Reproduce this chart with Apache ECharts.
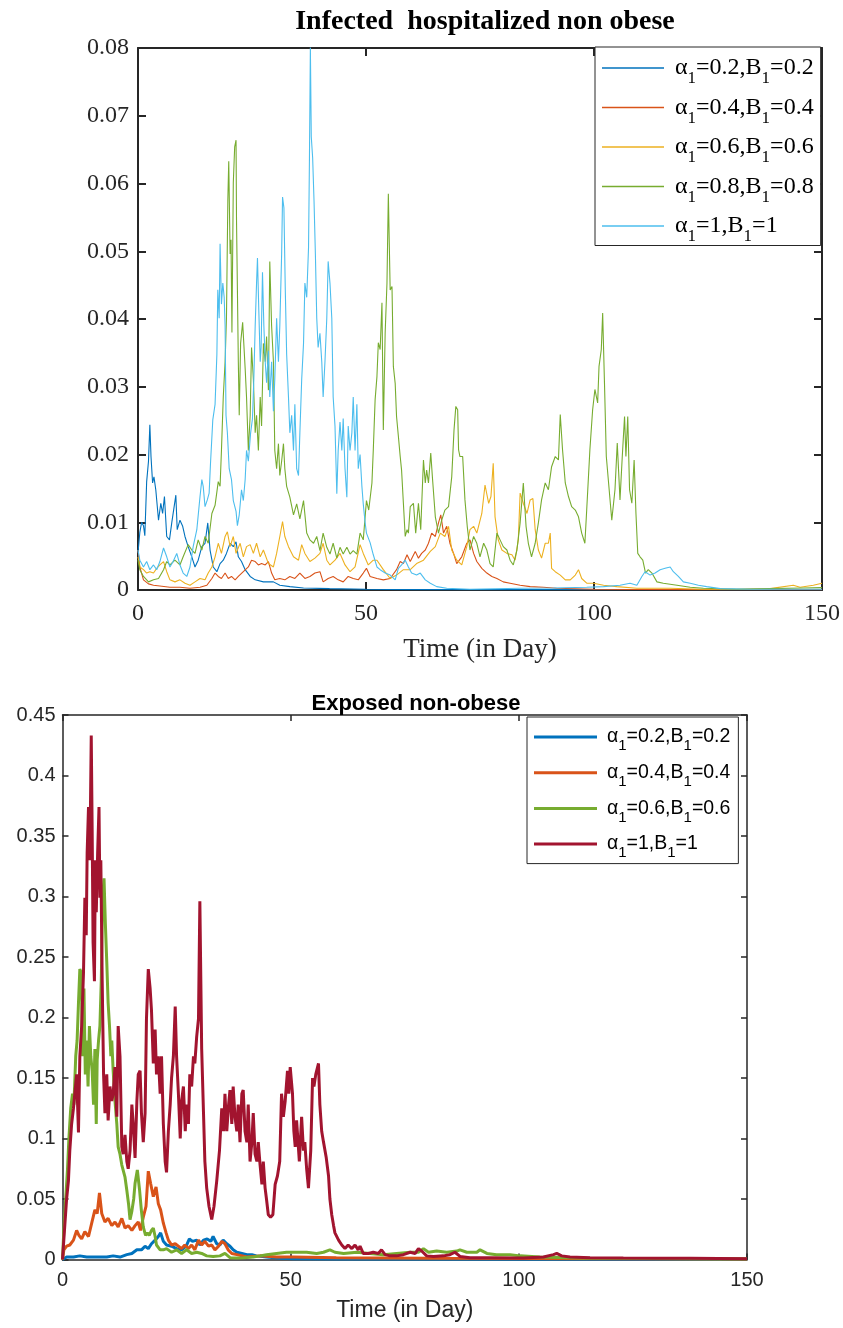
<!DOCTYPE html>
<html>
<head>
<meta charset="utf-8">
<script src="https://cdn.jsdelivr.net/npm/echarts@6/dist/echarts.min.js"></script>
<style>html,body{margin:0;padding:0;background:#fff}#c{width:843px;height:1328px}</style>
</head>
<body>
<div id="c"></div>
<script>
// ---------- Titles / labels ----------
const topTitle = 'Infected  hospitalized non obese';
const botTitle = 'Exposed non-obese';
const xName = 'Time (in Day)';
const xTicks = ['0', '50', '100', '150'];
const topYTicks = ['0', '0.01', '0.02', '0.03', '0.04', '0.05', '0.06', '0.07', '0.08'];
const botYTicks = ['0', '0.05', '0.1', '0.15', '0.2', '0.25', '0.3', '0.35', '0.4', '0.45'];
const topParams = ['0.2', '0.4', '0.6', '0.8', '1'];
const botParams = ['0.2', '0.4', '0.6', '1'];
const topColors = ['#0072BD', '#D95319', '#EDB120', '#77AC30', '#4DBEEE'];
const botColors = ['#0072BD', '#D95319', '#77AC30', '#A2142F'];

// ---------- Top chart: Infected hospitalized non obese ([day, value]) ----------
const topA02 = [[0,0.0055],[0.4,0.0085],[0.8,0.0100],[1.2,0.0095],[1.5,0.0080],[1.9,0.0160],[2.3,0.0190],[2.6,0.0244],[2.85,0.0197],[3.2,0.0158],[3.5,0.0167],[3.9,0.0148],[4.5,0.0103],[5.0,0.0128],[5.4,0.0113],[5.8,0.0138],[6.3,0.0079],[6.9,0.0074],[7.4,0.0099],[8.3,0.0140],[8.6,0.0089],[9.2,0.0103],[9.8,0.0094],[10.3,0.0079],[11.0,0.0064],[11.8,0.0049],[12.5,0.0034],[13.2,0.0044],[14.0,0.0064],[14.7,0.0069],[15.3,0.0099],[15.8,0.0059],[16.5,0.0034],[17.3,0.0027],[18.0,0.0039],[18.7,0.0044],[19.4,0.0054],[20.2,0.0069],[20.9,0.0064],[21.5,0.0071],[22.0,0.0049],[22.7,0.0042],[23.5,0.0030],[24.6,0.0020],[25.7,0.0015],[27.5,0.0012],[29.7,0.0012],[31.1,0.0007],[33.3,0.0005],[36.3,0.0003],[42,0.0002],[50,0.0001],[60,0.00005],[150,0.00005]];
const topA04 = [[0,0.0059],[0.4,0.0034],[1.2,0.0015],[2.3,0.0009],[3.4,0.0007],[4.8,0.0006],[7.0,0.0004],[9.2,0.0004],[11.4,0.00025],[13.6,0.0004],[15.1,0.0007],[16.2,0.0017],[16.9,0.0025],[17.6,0.0020],[18.3,0.0017],[19.1,0.0025],[19.8,0.0017],[20.5,0.0020],[21.3,0.0015],[22.0,0.0020],[23.1,0.0027],[24.2,0.0034],[24.9,0.0044],[25.7,0.0042],[26.4,0.0037],[27.1,0.0039],[27.9,0.0037],[28.6,0.0042],[29.3,0.0025],[30.0,0.0015],[31.1,0.0017],[32.2,0.0015],[33.3,0.0020],[34.4,0.0017],[35.5,0.0025],[36.6,0.0017],[37.7,0.0020],[38.8,0.0025],[39.9,0.0027],[40.6,0.0012],[41.7,0.0017],[42.8,0.0020],[43.9,0.0015],[45.0,0.0012],[46.1,0.0020],[47.2,0.0017],[48.3,0.0015],[49.4,0.0025],[50.1,0.0032],[50.9,0.0020],[52.4,0.0017],[53.8,0.0015],[55.3,0.0017],[56.7,0.0030],[57.5,0.0042],[58.2,0.0039],[59.0,0.0052],[59.7,0.0042],[60.8,0.0057],[61.5,0.0047],[62.2,0.0054],[63.0,0.0059],[63.7,0.0069],[64.4,0.0084],[65.2,0.0079],[65.9,0.0099],[66.4,0.0111],[67.0,0.0084],[67.7,0.0094],[68.4,0.0069],[69.2,0.0054],[69.9,0.0039],[71.0,0.0049],[72.1,0.0069],[72.8,0.0074],[73.6,0.0054],[74.3,0.0042],[75.4,0.0032],[76.5,0.0025],[77.6,0.0020],[78.7,0.0017],[80.1,0.0012],[81.6,0.0010],[83.8,0.0007],[86.0,0.0005],[88.9,0.0004],[91.8,0.00025],[100,0.0001],[120,0.00005],[150,0.00005]];
const topA06 = [[0,0.0049],[0.4,0.0034],[1.2,0.0030],[1.9,0.0025],[2.6,0.0027],[3.4,0.0025],[4.1,0.0032],[4.8,0.0037],[5.6,0.0042],[6.3,0.0027],[7.0,0.0015],[8.1,0.0012],[9.2,0.0015],[10.3,0.0010],[11.4,0.0007],[12.5,0.0012],[13.6,0.0017],[14.7,0.0015],[15.4,0.0025],[16.2,0.0034],[16.9,0.0049],[17.6,0.0069],[18.3,0.0054],[19.1,0.0079],[19.6,0.0086],[20.2,0.0064],[20.9,0.0079],[21.5,0.0054],[22.4,0.0069],[23.1,0.0049],[23.8,0.0064],[24.6,0.0067],[25.3,0.0054],[26.0,0.0069],[26.8,0.0049],[27.5,0.0059],[28.6,0.0039],[29.7,0.0034],[30.4,0.0054],[31.1,0.0079],[31.7,0.0101],[32.2,0.0079],[33.0,0.0064],[34.1,0.0049],[35.2,0.0044],[35.9,0.0067],[36.6,0.0054],[37.7,0.0042],[38.8,0.0047],[39.9,0.0054],[40.6,0.0069],[41.4,0.0044],[42.1,0.0037],[43.2,0.0044],[44.3,0.0054],[45.4,0.0037],[46.5,0.0027],[47.6,0.0034],[48.7,0.0067],[49.4,0.0054],[50.5,0.0037],[51.6,0.0044],[52.4,0.0044],[53.8,0.0030],[55.3,0.0017],[56.7,0.0022],[58.2,0.0030],[59.7,0.0030],[61.1,0.0039],[62.6,0.0044],[64.1,0.0057],[65.2,0.0064],[66.3,0.0084],[67.3,0.0079],[68.1,0.0094],[68.8,0.0059],[69.9,0.0044],[71.0,0.0037],[72.1,0.0064],[72.8,0.0089],[73.6,0.0094],[74.3,0.0084],[75.4,0.0113],[76.1,0.0155],[76.9,0.0128],[77.4,0.0138],[77.9,0.0187],[78.3,0.0108],[79.0,0.0074],[79.8,0.0059],[80.9,0.0054],[82.0,0.0052],[82.7,0.0044],[83.4,0.0074],[83.8,0.0143],[84.5,0.0128],[85.3,0.0113],[86.0,0.0133],[86.6,0.0135],[87.1,0.0089],[87.8,0.0059],[88.5,0.0047],[89.3,0.0069],[90.0,0.0069],[90.4,0.0084],[90.7,0.0032],[91.5,0.0027],[92.6,0.0022],[93.7,0.0015],[94.8,0.0015],[95.9,0.0022],[96.6,0.0030],[97.3,0.0017],[98.4,0.0010],[99.9,0.0010],[102.1,0.0007],[105.0,0.0005],[109.4,0.00025],[116.7,0.00025],[124.0,0.0001],[131.3,0.0001],[138.6,0.0002],[143.7,0.0007],[145.2,0.0004],[148.1,0.0007],[150,0.0010]];
const topA08 = [[0,0.0044],[0.4,0.0030],[1.2,0.0020],[2.3,0.0012],[3.4,0.0015],[4.5,0.0017],[5.6,0.0030],[6.3,0.0042],[7.0,0.0037],[8.1,0.0044],[9.2,0.0037],[9.9,0.0049],[11.0,0.0067],[11.8,0.0059],[12.5,0.0054],[13.2,0.0074],[14.0,0.0059],[14.7,0.0079],[15.4,0.0069],[16.2,0.0113],[16.9,0.0125],[17.6,0.0160],[18.0,0.0153],[18.3,0.0206],[18.7,0.0285],[19.1,0.0337],[19.4,0.0401],[19.7,0.0575],[19.9,0.0633],[20.2,0.0496],[20.4,0.0517],[20.6,0.0380],[20.9,0.0601],[21.2,0.0654],[21.5,0.0664],[21.6,0.0548],[21.8,0.0443],[22.0,0.0337],[22.2,0.0258],[22.5,0.0364],[22.95,0.0395],[23.5,0.0327],[23.8,0.0285],[24.2,0.0206],[24.6,0.0258],[24.9,0.0358],[25.3,0.0311],[25.7,0.0232],[26.0,0.0258],[26.4,0.0206],[26.8,0.0285],[27.1,0.0242],[27.5,0.0364],[27.9,0.0337],[28.2,0.0374],[28.6,0.0295],[28.9,0.0485],[29.3,0.0390],[29.7,0.0337],[30.0,0.0206],[30.4,0.0179],[30.8,0.0216],[31.1,0.0169],[31.5,0.0190],[31.9,0.0216],[32.2,0.0179],[32.6,0.0153],[33.3,0.0137],[34.1,0.0111],[34.8,0.0127],[35.5,0.0105],[36.3,0.0132],[37.0,0.0084],[37.7,0.0074],[38.5,0.0069],[39.2,0.0079],[39.9,0.0058],[40.6,0.0084],[41.4,0.0063],[42.1,0.0053],[42.8,0.0069],[43.6,0.0047],[44.3,0.0063],[45.0,0.0053],[45.8,0.0063],[46.5,0.0053],[47.2,0.0058],[48.0,0.0053],[48.7,0.0084],[49.4,0.0074],[50.1,0.0132],[50.6,0.0118],[51.3,0.0158],[51.6,0.0207],[52.0,0.0281],[52.4,0.0315],[52.7,0.0365],[53.1,0.0355],[53.5,0.0424],[53.8,0.0236],[54.2,0.0379],[54.6,0.0453],[54.9,0.0585],[55.3,0.0443],[55.7,0.0448],[56.0,0.0330],[56.4,0.0305],[56.7,0.0256],[57.1,0.0227],[57.5,0.0197],[57.8,0.0177],[58.2,0.0128],[58.6,0.0079],[59.0,0.0089],[59.3,0.0084],[59.7,0.0123],[60.4,0.0128],[60.9,0.0084],[61.5,0.0128],[62.0,0.0089],[62.6,0.0192],[63.0,0.0158],[63.3,0.0177],[63.7,0.0158],[64.2,0.0202],[64.6,0.0163],[65.2,0.0108],[65.9,0.0084],[66.6,0.0103],[67.3,0.0118],[68.1,0.0123],[68.8,0.0167],[69.3,0.0236],[69.7,0.0271],[70.1,0.0266],[70.3,0.0207],[70.6,0.0197],[71.2,0.0197],[71.7,0.0133],[72.2,0.0094],[72.8,0.0059],[73.6,0.0079],[74.3,0.0069],[75.0,0.0049],[75.8,0.0069],[76.5,0.0059],[77.2,0.0039],[77.9,0.0034],[78.7,0.0084],[79.4,0.0074],[80.1,0.0064],[80.9,0.0059],[81.6,0.0044],[82.3,0.0037],[83.1,0.0059],[83.8,0.0099],[84.5,0.0158],[85.1,0.0094],[85.6,0.0069],[86.3,0.0049],[87.1,0.0069],[87.8,0.0099],[88.5,0.0133],[89.3,0.0158],[90.0,0.0148],[90.7,0.0182],[91.5,0.0197],[92.2,0.0192],[92.6,0.0259],[93.1,0.0207],[93.7,0.0158],[94.4,0.0138],[95.1,0.0123],[95.9,0.0118],[96.6,0.0108],[97.3,0.0084],[98.0,0.0069],[98.4,0.0118],[99.1,0.0207],[99.7,0.0266],[100.2,0.0296],[100.8,0.0276],[101.1,0.0330],[101.6,0.0355],[101.9,0.0409],[102.3,0.0305],[102.7,0.0197],[103.2,0.0158],[103.9,0.0103],[104.6,0.0148],[105.1,0.0217],[105.7,0.0133],[106.2,0.0197],[106.7,0.0256],[107.0,0.0197],[107.4,0.0256],[107.8,0.0148],[108.3,0.0128],[108.8,0.0192],[109.2,0.0113],[109.6,0.0054],[110.1,0.0049],[110.7,0.0044],[111.3,0.0025],[111.9,0.0030],[112.7,0.0025],[113.8,0.0012],[115.2,0.0010],[118.2,0.0007],[121.1,0.0004],[124.0,0.00025],[131.3,0.0001],[138.6,0.0002],[145.9,0.0003],[150,0.00035]];
const topA10 = [[0,0.0059],[0.4,0.0044],[1.2,0.0034],[1.9,0.0042],[2.6,0.0030],[3.4,0.0037],[4.1,0.0030],[4.8,0.0042],[5.6,0.0062],[6.3,0.0049],[7.0,0.0034],[7.7,0.0042],[8.5,0.0054],[9.2,0.0037],[9.9,0.0025],[10.7,0.0020],[11.4,0.0034],[12.1,0.0064],[12.9,0.0089],[13.6,0.0138],[14.0,0.0163],[14.3,0.0153],[14.7,0.0123],[15.2,0.0133],[15.6,0.0143],[15.9,0.0187],[16.4,0.0251],[16.9,0.0274],[17.3,0.0348],[17.5,0.0443],[17.8,0.0401],[18.0,0.0511],[18.3,0.0422],[18.6,0.0453],[18.9,0.0432],[19.1,0.0390],[19.3,0.0258],[19.6,0.0232],[20.0,0.0179],[20.5,0.0163],[20.9,0.0132],[21.5,0.0116],[21.8,0.0095],[22.2,0.0111],[22.7,0.0148],[23.1,0.0132],[23.5,0.0163],[23.8,0.0206],[24.2,0.0190],[24.7,0.0232],[25.1,0.0253],[25.4,0.0311],[25.7,0.0390],[26.0,0.0453],[26.2,0.0490],[26.5,0.0411],[26.8,0.0337],[27.0,0.0358],[27.3,0.0469],[27.6,0.0390],[27.9,0.0337],[28.2,0.0306],[28.6,0.0353],[28.9,0.0285],[29.3,0.0337],[29.7,0.0264],[30.0,0.0311],[30.4,0.0401],[30.8,0.0337],[31.1,0.0390],[31.5,0.0496],[31.7,0.0580],[32.0,0.0564],[32.3,0.0443],[32.6,0.0348],[33.0,0.0285],[33.3,0.0232],[33.7,0.0258],[34.1,0.0206],[34.4,0.0274],[34.8,0.0179],[35.2,0.0169],[35.5,0.0232],[35.9,0.0311],[36.3,0.0364],[36.6,0.0453],[37.0,0.0432],[37.4,0.0506],[37.6,0.0638],[37.8,0.0801],[38.0,0.0669],[38.3,0.0638],[38.6,0.0575],[38.9,0.0496],[39.2,0.0401],[39.5,0.0358],[39.9,0.0379],[40.3,0.0337],[40.6,0.0285],[41.0,0.0337],[41.4,0.0401],[41.7,0.0485],[42.1,0.0453],[42.5,0.0401],[42.8,0.0285],[43.2,0.0242],[43.6,0.0142],[43.9,0.0206],[44.3,0.0248],[44.7,0.0206],[45.0,0.0253],[45.4,0.0179],[45.8,0.0137],[46.1,0.0242],[46.5,0.0206],[46.9,0.0232],[47.2,0.0285],[47.6,0.0206],[48.0,0.0274],[48.3,0.0179],[48.7,0.0200],[49.1,0.0153],[49.4,0.0127],[49.8,0.0100],[50.1,0.0084],[50.9,0.0070],[51.6,0.0052],[52.4,0.0034],[53.1,0.0030],[54.2,0.0025],[55.3,0.0022],[56.4,0.0015],[57.1,0.0032],[57.8,0.0037],[58.6,0.0044],[59.3,0.0034],[60.0,0.0025],[61.1,0.0022],[61.9,0.0025],[63.0,0.0015],[64.1,0.0010],[65.5,0.0005],[67.7,0.00025],[72.8,0.0001],[83.8,0.00025],[91.1,0.0003],[98.4,0.0004],[102.1,0.0005],[105.7,0.0007],[107.9,0.0010],[109.4,0.0007],[110.5,0.0020],[111.2,0.0027],[112.3,0.0022],[113.4,0.0025],[114.5,0.0030],[115.6,0.0032],[116.7,0.0034],[117.4,0.0027],[118.5,0.0020],[119.6,0.0012],[121.1,0.0010],[122.9,0.0007],[124.7,0.0005],[127.7,0.0002],[135.0,0.0001],[150,0.0001]];

// ---------- Bottom chart: Exposed non-obese ([day, value]) ----------
const botA02 = [[0,0],[0.9,0.002],[2.4,0.002],[3.8,0.003],[5.3,0.002],[6.8,0.002],[8.2,0.002],[9.7,0.002],[11.1,0.003],[12.6,0.002],[14.1,0.004],[15.2,0.005],[16.3,0.008],[17.3,0.008],[18.1,0.011],[18.8,0.009],[19.5,0.013],[20.3,0.016],[21.0,0.019],[21.5,0.022],[22.1,0.015],[22.8,0.012],[23.9,0.011],[25.0,0.009],[26.1,0.008],[27.1,0.011],[27.8,0.017],[28.5,0.015],[29.4,0.016],[30.1,0.012],[30.9,0.016],[31.7,0.017],[32.5,0.015],[33.0,0.019],[33.8,0.013],[34.5,0.012],[35.2,0.016],[36.0,0.013],[36.7,0.011],[37.4,0.008],[38.2,0.006],[39.3,0.005],[40.4,0.004],[41.5,0.004],[42.5,0.003],[44.7,0.002],[47.7,0.001],[50.6,0.0007],[60,0.0005],[150,0.0003]];
const botA04 = [[0,0],[0.3,0.008],[0.9,0.011],[1.6,0.012],[2.4,0.016],[3.1,0.024],[3.6,0.020],[4.2,0.017],[4.9,0.023],[5.7,0.019],[6.4,0.030],[7.1,0.041],[7.6,0.038],[8.1,0.055],[8.6,0.038],[9.3,0.031],[10.0,0.034],[10.8,0.028],[11.5,0.031],[12.2,0.027],[13.0,0.034],[13.7,0.026],[14.4,0.028],[15.2,0.024],[15.9,0.028],[16.6,0.031],[17.1,0.024],[17.7,0.035],[18.3,0.044],[18.8,0.073],[19.3,0.063],[19.9,0.052],[20.5,0.060],[21.0,0.046],[21.5,0.041],[22.1,0.030],[22.7,0.022],[23.2,0.016],[23.9,0.012],[24.7,0.013],[25.4,0.011],[26.1,0.009],[26.8,0.012],[27.6,0.009],[28.3,0.012],[29.0,0.008],[29.8,0.016],[30.5,0.012],[31.2,0.015],[32.0,0.011],[32.7,0.012],[33.4,0.008],[34.2,0.011],[34.9,0.015],[35.6,0.013],[36.3,0.008],[37.1,0.005],[38.2,0.004],[40.4,0.002],[43.3,0.003],[46.9,0.002],[50.6,0.002],[60,0.0015],[80,0.001],[150,0.0005]];
const botA06 = [[0,0],[0.3,0.025],[0.7,0.050],[1.1,0.075],[1.4,0.100],[1.8,0.125],[2.2,0.137],[2.5,0.128],[2.9,0.168],[3.2,0.181],[3.5,0.212],[3.8,0.240],[4.1,0.237],[4.4,0.168],[4.7,0.224],[5.0,0.153],[5.3,0.181],[5.6,0.143],[5.9,0.193],[6.2,0.168],[6.5,0.156],[6.8,0.128],[7.1,0.174],[7.4,0.112],[7.6,0.165],[7.9,0.181],[8.2,0.193],[8.5,0.231],[8.8,0.299],[9.1,0.315],[9.4,0.277],[9.7,0.246],[10.0,0.212],[10.3,0.193],[10.6,0.168],[10.8,0.181],[11.1,0.156],[11.5,0.131],[11.9,0.112],[12.2,0.093],[12.6,0.087],[13.0,0.078],[13.7,0.068],[14.1,0.057],[14.5,0.045],[14.8,0.033],[15.2,0.040],[15.6,0.050],[15.9,0.063],[16.4,0.074],[16.9,0.057],[17.3,0.040],[17.7,0.027],[18.2,0.020],[18.6,0.022],[19.0,0.020],[19.5,0.024],[19.9,0.026],[20.3,0.019],[20.6,0.012],[21.4,0.008],[22.1,0.008],[22.8,0.009],[23.9,0.006],[25.0,0.008],[26.1,0.005],[27.2,0.008],[28.3,0.005],[29.4,0.006],[30.5,0.005],[31.6,0.003],[33.0,0.0025],[34.5,0.003],[35.6,0.005],[36.7,0.0015],[38.2,0.0012],[39.6,0.0015],[41.8,0.002],[43.3,0.003],[44.7,0.004],[46.9,0.005],[49.1,0.006],[51.3,0.006],[53.5,0.006],[55.7,0.005],[57.2,0.006],[58.6,0.008],[59.7,0.006],[61.6,0.005],[64.5,0.006],[67.4,0.005],[70.3,0.004],[73.2,0.005],[76.2,0.006],[78.0,0.006],[79.1,0.009],[80.2,0.006],[82.0,0.007],[84.2,0.006],[86.4,0.007],[87.1,0.008],[88.6,0.006],[90.8,0.006],[91.5,0.008],[93.0,0.005],[95.1,0.004],[98.1,0.004],[100.3,0.003],[104.6,0.002],[115.6,0.001],[150,0.0005]];
const botA10 = [[0,0],[0.5,0.028],[0.9,0.050],[1.3,0.065],[1.6,0.090],[2.0,0.112],[2.4,0.125],[2.7,0.137],[3.1,0.153],[3.5,0.105],[3.8,0.168],[4.2,0.193],[4.6,0.237],[4.9,0.299],[5.2,0.268],[5.4,0.336],[5.7,0.374],[6.0,0.330],[6.3,0.433],[6.5,0.355],[6.7,0.262],[7.0,0.230],[7.2,0.330],[7.4,0.287],[7.7,0.336],[8.0,0.374],[8.2,0.299],[8.4,0.330],[8.7,0.230],[9.0,0.153],[9.3,0.121],[9.7,0.153],[10.0,0.115],[10.4,0.143],[10.8,0.131],[11.1,0.137],[11.5,0.159],[11.9,0.118],[12.2,0.193],[12.6,0.168],[13.0,0.093],[13.3,0.087],[13.7,0.103],[14.1,0.081],[14.4,0.075],[14.8,0.090],[15.2,0.128],[15.5,0.112],[15.9,0.084],[16.3,0.131],[16.6,0.153],[17.0,0.156],[17.3,0.121],[17.7,0.097],[18.1,0.121],[18.4,0.199],[18.8,0.240],[19.2,0.224],[19.5,0.206],[19.9,0.162],[20.3,0.190],[20.6,0.153],[21.0,0.168],[21.4,0.137],[21.7,0.168],[22.1,0.112],[22.5,0.081],[22.8,0.072],[23.2,0.106],[23.6,0.128],[23.9,0.150],[24.3,0.168],[24.7,0.209],[25.0,0.168],[25.4,0.137],[25.8,0.100],[26.1,0.131],[26.5,0.143],[26.9,0.106],[27.2,0.128],[27.6,0.112],[27.9,0.153],[28.3,0.143],[28.7,0.168],[29.0,0.162],[29.4,0.184],[29.8,0.199],[30.1,0.296],[30.5,0.174],[30.9,0.121],[31.2,0.081],[31.6,0.059],[32.1,0.044],[32.7,0.033],[33.2,0.044],[33.8,0.065],[34.4,0.090],[34.9,0.125],[35.3,0.106],[35.6,0.137],[36.0,0.106],[36.4,0.128],[36.7,0.140],[37.1,0.112],[37.4,0.143],[37.8,0.118],[38.2,0.106],[38.5,0.128],[38.9,0.097],[39.3,0.137],[39.6,0.140],[40.0,0.106],[40.4,0.097],[40.7,0.128],[41.1,0.081],[41.5,0.097],[41.8,0.121],[42.2,0.087],[42.6,0.081],[42.9,0.097],[43.3,0.078],[43.7,0.062],[44.0,0.081],[44.4,0.059],[44.7,0.050],[45.1,0.037],[45.6,0.035],[46.1,0.037],[46.6,0.062],[47.1,0.069],[47.6,0.081],[48.0,0.137],[48.4,0.118],[48.8,0.131],[49.3,0.156],[49.6,0.137],[49.9,0.159],[50.4,0.137],[50.7,0.106],[51.0,0.093],[51.3,0.115],[51.9,0.081],[52.4,0.118],[52.8,0.090],[53.1,0.097],[53.5,0.075],[53.9,0.059],[54.4,0.090],[54.8,0.150],[55.1,0.143],[55.5,0.153],[56.1,0.162],[56.4,0.128],[56.8,0.106],[57.2,0.097],[57.8,0.084],[58.3,0.069],[58.6,0.050],[59.0,0.037],[59.4,0.028],[59.7,0.022],[60.5,0.016],[61.2,0.012],[61.9,0.009],[62.6,0.012],[63.4,0.009],[64.1,0.012],[64.8,0.008],[65.2,0.011],[65.9,0.005],[67.0,0.005],[68.1,0.006],[69.2,0.005],[69.9,0.008],[70.7,0.004],[71.8,0.003],[73.2,0.003],[74.7,0.004],[76.2,0.006],[77.3,0.005],[78.0,0.009],[78.7,0.007],[79.8,0.003],[81.3,0.0025],[83.5,0.003],[84.9,0.004],[86.0,0.006],[87.1,0.0025],[89.3,0.0015],[93.7,0.0015],[101.0,0.0012],[105.4,0.002],[107.6,0.004],[108.3,0.005],[109.4,0.003],[111.2,0.002],[115.6,0.0015],[122.9,0.0012],[130.2,0.001],[137.5,0.001],[150,0.0006]];

const topSeriesData = [topA02, topA04, topA06, topA08, topA10];
const botSeriesData = [botA02, botA04, botA06, botA10];

// ---------- Build option ----------
const AX = '#262626';
const SERIF = 'Liberation Serif';
const SANS = 'Liberation Sans';
const topNames = topParams.map((p, i) => 'T' + i);
const botNames = botParams.map((p, i) => 'B' + i);

function axisPair(gridIndex, font, fs, lw, tickLen, labelMargin, labels, step, max, isX, nameCfg) {
  const common = {
    type: 'value', gridIndex, min: 0, max, interval: step,
    splitLine: { show: false },
    axisLine: { show: true, onZero: false, lineStyle: { color: AX, width: lw } },
    axisTick: { show: true, inside: true, length: tickLen, lineStyle: { color: AX, width: lw } }
  };
  const main = Object.assign({}, common, {
    position: isX ? 'bottom' : 'left',
    axisLabel: { show: true, margin: labelMargin, color: AX, fontFamily: font, fontSize: fs,
      formatter: v => labels[Math.round(v / step)] }
  }, nameCfg || {});
  const mirror = Object.assign({}, common, {
    position: isX ? 'top' : 'right',
    axisLabel: { show: false }
  });
  return [main, mirror];
}

const topX = axisPair(0, SERIF, 24, 2, 8, 12, xTicks, 50, 150, true, {
  name: xName, nameLocation: 'middle', nameGap: 46,
  nameTextStyle: { fontFamily: SERIF, fontSize: 27, color: AX }
});
const topY = axisPair(0, SERIF, 24, 2, 8, 9, topYTicks, 0.01, 0.08, false);
const botX = axisPair(1, SANS, 20, 1.5, 6, 11, xTicks, 50, 150, true, {
  name: xName, nameLocation: 'middle', nameGap: 40,
  nameTextStyle: { fontFamily: SANS, fontSize: 23, color: AX }
});
const botY = axisPair(1, SANS, 20, 1.5, 6, 7, botYTicks, 0.05, 0.45, false);

const xAxes = [topX[0], topX[1], botX[0], botX[1]];
const yAxes = [topY[0], topY[1], botY[0], botY[1]];

const series = [];
topSeriesData.forEach((d, i) => series.push({
  name: topNames[i], type: 'line', xAxisIndex: 0, yAxisIndex: 0, data: d,
  showSymbol: false, symbol: 'none', animation: false, clip: true,
  lineStyle: { color: topColors[i], width: 1.1 }, itemStyle: { color: topColors[i] }
}));
botSeriesData.forEach((d, i) => series.push({
  name: botNames[i], type: 'line', xAxisIndex: 2, yAxisIndex: 2, data: d,
  showSymbol: false, symbol: 'none', animation: false, clip: true,
  lineStyle: { color: botColors[i], width: 3 }, itemStyle: { color: botColors[i] }
}));

function legendText(p) { return '{g|α}{s|1}{a|=' + p + ',B}{s|1}{a|=' + p + '}'; }

const option = {
  backgroundColor: '#fff',
  animation: false,
  title: [
    { text: topTitle, left: 480, top: 3, textAlign: 'center',
      textStyle: { fontFamily: SERIF, fontWeight: 'bold', fontSize: 28, color: '#000' } },
    { text: botTitle, left: 411, top: 688, textAlign: 'center',
      textStyle: { fontFamily: SANS, fontWeight: 'bold', fontSize: 22, color: '#000' } }
  ],
  grid: [
    { left: 138, top: 48, width: 684, height: 542, containLabel: false },
    { left: 62.5, top: 715, width: 684.5, height: 544.5, containLabel: false }
  ],
  xAxis: xAxes,
  yAxis: yAxes,
  legend: [
    {
      data: topNames, orient: 'vertical', left: 595, top: 47,
      icon: 'rect', itemWidth: 62, itemHeight: 1.5, itemGap: 2, padding: [3, 7, 0, 7],
      backgroundColor: '#fff', borderColor: '#262626', borderWidth: 1,
      selectedMode: false,
      formatter: n => legendText(topParams[topNames.indexOf(n)]),
      textStyle: {
        rich: {
          g: { fontFamily: SERIF, fontSize: 24, lineHeight: 34, color: '#000', padding: [0, 0, 0, 6] },
          a: { fontFamily: SERIF, fontSize: 24, lineHeight: 34, color: '#000' },
          s: { fontFamily: SERIF, fontSize: 17, height: 14, lineHeight: 34, padding: [22, 0, 0, 0], color: '#000' }
        }
      }
    },
    {
      data: botNames, orient: 'vertical', left: 527, top: 717,
      icon: 'rect', itemWidth: 63, itemHeight: 3, itemGap: 4.2, padding: [5, 8, 3, 7],
      backgroundColor: '#fff', borderColor: '#262626', borderWidth: 1,
      selectedMode: false,
      formatter: n => legendText(botParams[botNames.indexOf(n)]),
      textStyle: {
        rich: {
          g: { fontFamily: SANS, fontSize: 19.5, lineHeight: 30, color: '#000', padding: [0, 0, 0, 5] },
          a: { fontFamily: SANS, fontSize: 19.5, lineHeight: 30, color: '#000' },
          s: { fontFamily: SANS, fontSize: 15, height: 12, lineHeight: 30, padding: [18, 0, 0, 0], color: '#000' }
        }
      }
    }
  ],
  series
};

const chart = echarts.init(document.getElementById('c'), null, { renderer: 'canvas' });
chart.setOption(option);
</script>
</body>
</html>
